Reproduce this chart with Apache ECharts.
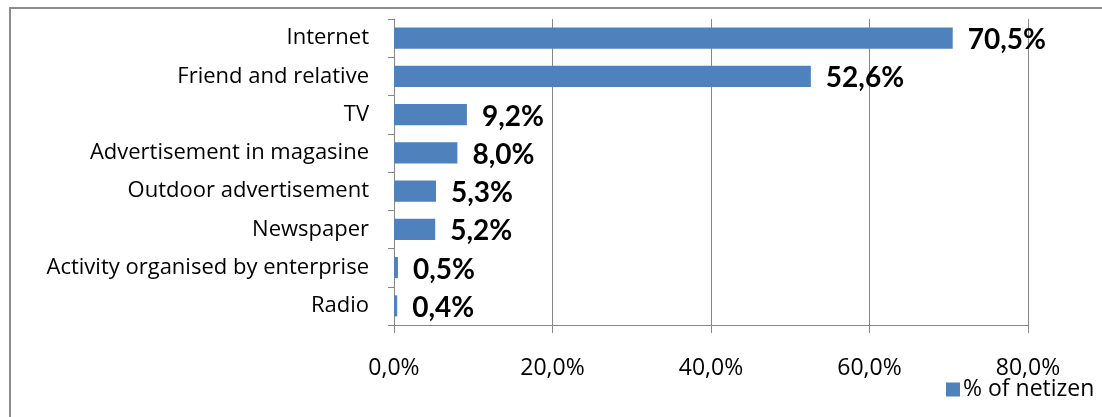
<!DOCTYPE html>
<html>
<head>
<meta charset="utf-8">
<script src="https://cdn.jsdelivr.net/npm/echarts@6/dist/echarts.min.js"></script>
<style>
  html, body { margin: 0; padding: 0; background: #fff; }
  #chart { width: 1102px; height: 417px; }
</style>
</head>
<body>
<div id="chart"></div>
<script>
// Information sources named by netizens, share in percent
const categories = [
  'Internet',
  'Friend and relative',
  'TV',
  'Advertisement in magasine',
  'Outdoor advertisement',
  'Newspaper',
  'Activity organised by enterprise',
  'Radio'
];
const netizenShare = [70.5, 52.6, 9.2, 8.0, 5.3, 5.2, 0.5, 0.4];
const seriesName = '% of netizen';
const xTicks = { min: 0, max: 80, interval: 20 };

const fmt = v => Number(v).toFixed(1).replace('.', ',') + '%';
const TEXT_FONT = '"Open Sans", sans-serif';
const BOLD_FONT = 'Lato, "Open Sans", sans-serif';
const GRAY = '#878787';

const chart = echarts.init(document.getElementById('chart'), null, { renderer: 'canvas' });
chart.setOption({
  animation: false,
  textStyle: { fontFamily: TEXT_FONT },
  graphic: [{
    type: 'rect',
    shape: { x: 10, y: 8, width: 1120, height: 440 },
    style: { fill: 'none', stroke: '#8c8c8c', lineWidth: 2 },
    silent: true
  }],
  grid: { left: 394, right: 74, top: 19, bottom: 92, containLabel: false },
  legend: {
    data: [seriesName],
    left: 941,
    top: 373,
    icon: 'rect',
    itemWidth: 14,
    itemHeight: 14,
    itemGap: 4,
    textStyle: { fontFamily: TEXT_FONT, fontSize: 23, color: '#000', padding: [0, 0, 0, -2] }
  },
  xAxis: {
    type: 'value',
    min: xTicks.min,
    max: xTicks.max,
    interval: xTicks.interval,
    axisLine: { show: true, lineStyle: { color: GRAY, width: 1 } },
    axisTick: { show: true, length: 8, lineStyle: { color: GRAY } },
    splitLine: { show: true, lineStyle: { color: GRAY, width: 1 } },
    axisLabel: { formatter: fmt, fontFamily: TEXT_FONT, fontSize: 23, color: '#000', margin: 32 }
  },
  yAxis: {
    type: 'category',
    inverse: true,
    data: categories,
    axisLine: { show: true, lineStyle: { color: GRAY, width: 1 } },
    axisTick: { show: true, length: 6, lineStyle: { color: GRAY } },
    axisLabel: { fontFamily: TEXT_FONT, fontSize: 22, color: '#000', margin: 25, padding: [3, 0, 0, 0] }
  },
  series: [{
    name: seriesName,
    type: 'bar',
    data: netizenShare,
    barCategoryGap: '45%',
    itemStyle: { color: '#4F81BD' },
    label: {
      show: true,
      position: 'right',
      distance: 15,
      offset: [0, 2],
      formatter: p => fmt(p.value),
      fontFamily: BOLD_FONT,
      fontWeight: 'bold',
      fontSize: 28,
      color: '#000'
    }
  }]
});
</script>
</body>
</html>
